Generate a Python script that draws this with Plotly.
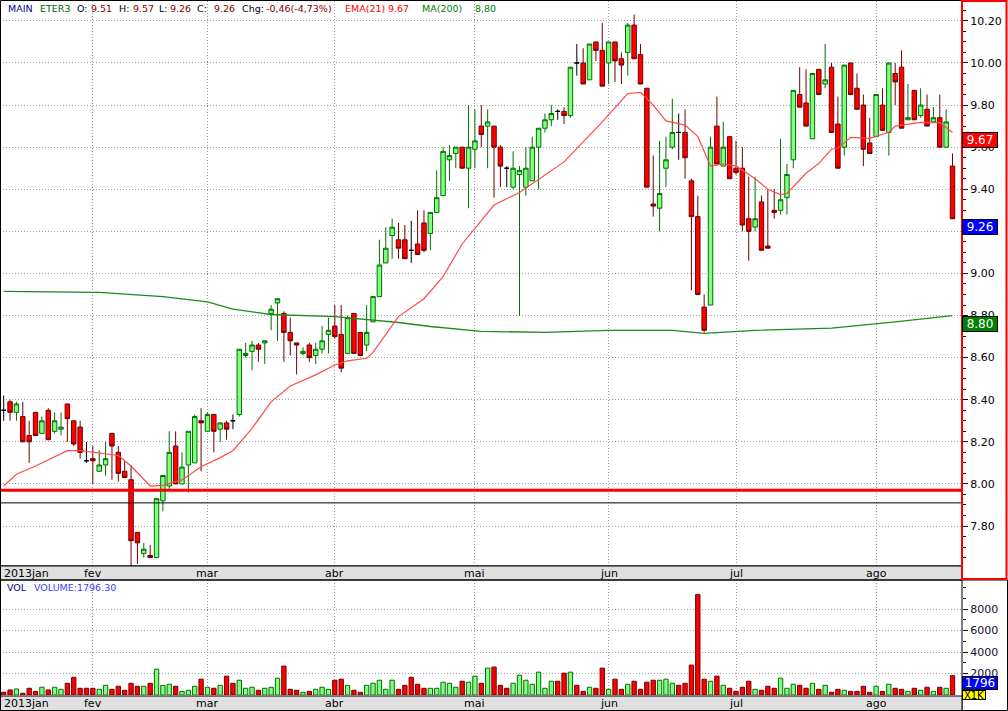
import plotly.graph_objects as go
import pandas as pd

W, H = 1008, 711

# ---------------- data ----------------
holidays = ["2013-01-25", "2013-02-11", "2013-02-12", "2013-03-29",
            "2013-05-01", "2013-05-30", "2013-07-09"]
month_names = ["2013jan", "fev", "mar", "abr", "mai", "jun", "jul", "ago"]

open_ = [8.35, 8.39, 8.34, 8.32, 8.23, 8.34, 8.24, 8.35, 8.25, 8.26,
         8.38, 8.30, 8.27, 8.11, 8.12, 8.06, 8.09, 8.24, 8.15, 8.06,
         8.02, 7.77, 7.67, 7.66, 7.65, 7.92, 7.99, 8.18, 8.00, 8.09,
         8.10, 8.30, 8.25, 8.33, 8.26, 8.29, 8.30, 8.33, 8.61, 8.63,
         8.66, 8.67, 8.81, 8.86, 8.81, 8.72, 8.67, 8.62, 8.66, 8.61,
         8.64, 8.71, 8.75, 8.71, 8.62, 8.81, 8.72, 8.66, 8.77, 8.89,
         9.05, 9.18, 9.16, 9.16, 9.11, 9.14, 9.24, 9.19, 9.29, 9.37,
         9.54, 9.57, 9.60, 9.50, 9.59, 9.70, 9.70, 9.70, 9.60, 9.50,
         9.41, 9.47, 9.41, 9.44, 9.60, 9.69, 9.73, 9.77, 9.77, 9.75,
         10.00, 10.00, 9.92, 10.10, 10.06, 10.00, 10.10, 10.02, 10.05, 10.18,
         10.04, 9.88, 9.33, 9.31, 9.50, 9.60, 9.67, 9.67, 9.44, 9.27,
         8.84, 8.85, 9.70, 9.51, 9.65, 9.50, 9.50, 9.26, 9.22, 9.34,
         9.13, 9.30, 9.30, 9.36, 9.54, 9.85, 9.81, 9.64, 9.97, 9.90,
         9.98, 9.71, 9.60, 10.00, 9.88, 9.80, 9.62, 9.65, 9.80, 9.67,
         9.95, 9.98, 9.73, 9.87, 9.75, 9.78, 9.72, 9.74, 9.60, 9.51]
high = [8.42, 8.40, 8.39, 8.39, 8.30, 8.34, 8.32, 8.36, 8.34, 8.34,
        8.38, 8.30, 8.30, 8.20, 8.18, 8.16, 8.20, 8.24, 8.18, 8.11,
        8.09, 7.77, 7.72, 7.71, 7.93, 8.04, 8.25, 8.25, 8.15, 8.25,
        8.33, 8.36, 8.34, 8.33, 8.29, 8.30, 8.33, 8.64, 8.67, 8.68,
        8.67, 8.68, 8.85, 8.88, 8.82, 8.79, 8.67, 8.65, 8.67, 8.67,
        8.75, 8.79, 8.85, 8.85, 8.80, 8.81, 8.72, 8.85, 8.89, 9.16,
        9.22, 9.26, 9.24, 9.23, 9.25, 9.30, 9.30, 9.29, 9.49, 9.60,
        9.61, 9.60, 9.60, 9.80, 9.78, 9.80, 9.78, 9.70, 9.61, 9.51,
        9.58, 9.51, 9.60, 9.65, 9.69, 9.76, 9.80, 9.78, 9.79, 9.98,
        10.09, 10.07, 10.09, 10.10, 10.19, 10.10, 10.10, 10.05, 10.19, 10.23,
        10.09, 9.88, 9.56, 9.63, 9.65, 9.83, 9.76, 9.78, 9.45, 9.37,
        8.90, 9.65, 9.84, 9.72, 9.65, 9.63, 9.60, 9.46, 9.46, 9.37,
        9.40, 9.40, 9.64, 9.52, 9.87, 9.98, 9.97, 9.95, 9.97, 10.09,
        10.00, 9.84, 9.99, 10.00, 9.95, 9.85, 9.74, 9.85, 9.88, 10.00,
        10.00, 10.06, 9.90, 9.87, 9.88, 9.85, 9.79, 9.85, 9.78, 9.57]
low = [8.30, 8.30, 8.30, 8.20, 8.10, 8.23, 8.24, 8.21, 8.24, 8.23,
       8.20, 8.18, 8.12, 8.10, 8.00, 8.06, 8.04, 8.02, 8.01, 8.03,
       7.61, 7.62, 7.65, 7.65, 7.65, 7.87, 7.97, 8.00, 8.00, 7.96,
       8.10, 8.06, 8.25, 8.15, 8.20, 8.21, 8.26, 8.32, 8.60, 8.54,
       8.58, 8.57, 8.73, 8.68, 8.58, 8.61, 8.52, 8.61, 8.58, 8.57,
       8.62, 8.62, 8.69, 8.53, 8.62, 8.62, 8.61, 8.63, 8.77, 8.89,
       9.05, 9.07, 9.07, 9.07, 9.05, 9.09, 9.10, 9.11, 9.29, 9.37,
       9.44, 9.50, 9.50, 9.31, 9.50, 9.60, 9.50, 9.36, 9.41, 9.41,
       9.40, 8.80, 9.37, 9.44, 9.40, 9.67, 9.70, 9.73, 9.71, 9.74,
       9.94, 9.90, 9.92, 10.01, 9.89, 9.90, 9.91, 9.90, 9.94, 10.02,
       9.90, 9.41, 9.27, 9.20, 9.41, 9.59, 9.54, 9.45, 8.92, 8.90,
       8.72, 8.85, 9.52, 9.51, 9.45, 9.47, 9.20, 9.06, 9.20, 9.11,
       9.12, 9.26, 9.28, 9.28, 9.50, 9.79, 9.70, 9.64, 9.85, 9.88,
       9.67, 9.50, 9.56, 9.85, 9.78, 9.51, 9.57, 9.65, 9.68, 9.56,
       9.80, 9.69, 9.73, 9.73, 9.74, 9.70, 9.72, 9.60, 9.60, 9.26]
close = [8.35, 8.34, 8.38, 8.20, 8.20, 8.23, 8.30, 8.21, 8.30, 8.27,
         8.31, 8.19, 8.15, 8.11, 8.11, 8.09, 8.12, 8.18, 8.05, 8.03,
         7.73, 7.72, 7.69, 7.65, 7.93, 8.04, 8.15, 8.00, 8.08, 8.25,
         8.32, 8.29, 8.33, 8.25, 8.29, 8.26, 8.30, 8.64, 8.62, 8.66,
         8.64, 8.68, 8.83, 8.88, 8.72, 8.68, 8.66, 8.63, 8.60, 8.64,
         8.68, 8.73, 8.70, 8.55, 8.79, 8.62, 8.61, 8.72, 8.89, 9.04,
         9.12, 9.22, 9.12, 9.07, 9.11, 9.09, 9.11, 9.29, 9.36, 9.58,
         9.56, 9.60, 9.50, 9.60, 9.63, 9.66, 9.72, 9.60, 9.51, 9.50,
         9.50, 9.49, 9.50, 9.60, 9.69, 9.73, 9.76, 9.77, 9.75, 9.98,
         10.00, 9.90, 10.09, 10.06, 9.89, 10.10, 10.01, 9.99, 10.18, 10.02,
         9.90, 9.41, 9.32, 9.38, 9.54, 9.67, 9.67, 9.55, 9.27, 8.90,
         8.73, 9.60, 9.52, 9.60, 9.45, 9.48, 9.23, 9.20, 9.26, 9.11,
         9.12, 9.29, 9.35, 9.47, 9.87, 9.79, 9.70, 9.95, 9.85, 9.92,
         9.67, 9.50, 9.99, 9.85, 9.78, 9.59, 9.57, 9.85, 9.68, 10.00,
         9.91, 9.69, 9.74, 9.73, 9.80, 9.70, 9.74, 9.60, 9.72, 9.26]
volume = [250, 470, 560, 160, 625, 340, 720, 470, 720, 530,
          1090, 1650, 625, 625, 625, 530, 900, 530, 810, 440,
          1090, 810, 810, 1090, 2400, 900, 1000, 810, 340, 440,
          810, 1470, 720, 625, 900, 1750, 1090, 1375, 625, 720,
          440, 625, 720, 1560, 2690, 530, 440, 250, 340, 530,
          720, 530, 1375, 1470, 900, 440, 250, 900, 1090, 1375,
          530, 1375, 530, 900, 1650, 1000, 625, 625, 625, 1190,
          1090, 720, 1280, 1190, 1750, 1090, 2500, 2600, 900, 625,
          1090, 1840, 1375, 1000, 2125, 625, 1280, 1280, 2030, 2125,
          900, 340, 720, 625, 2500, 530, 1470, 530, 1000, 1280,
          530, 1190, 1375, 1375, 1470, 1090, 900, 1090, 2780, 9340,
          1470, 1280, 1750, 900, 625, 340, 720, 1280, 530, 440,
          810, 625, 1560, 625, 1000, 900, 625, 1090, 530, 900,
          250, 530, 440, 340, 340, 810, 250, 810, 340, 1000,
          625, 530, 340, 625, 440, 720, 340, 720, 625, 1796.3]

ema_idx = [0, 2, 5, 7, 10, 12, 15, 18, 20, 22, 23, 25, 27, 28, 31, 34, 36, 39,
           42, 45, 49, 52, 54, 57, 58, 62, 66, 69, 72, 77, 81, 88, 94, 98, 100,
           102, 104, 107, 109, 111, 113, 115, 118, 120, 122, 123, 126, 128, 130,
           131, 133, 136, 139, 140, 144, 147, 149]
ema_val = [7.99, 8.046, 8.085, 8.115, 8.158, 8.158, 8.147, 8.135, 8.085, 8.019,
           7.99, 7.993, 8.008, 8.019, 8.082, 8.125, 8.158, 8.264, 8.39, 8.465,
           8.518, 8.565, 8.585, 8.597, 8.625, 8.795, 8.88, 8.985, 9.14, 9.325,
           9.385, 9.53, 9.72, 9.855, 9.86, 9.80, 9.725, 9.705, 9.65, 9.51, 9.52,
           9.511, 9.45, 9.40, 9.375, 9.38, 9.476, 9.523, 9.59, 9.595, 9.647,
           9.642, 9.671, 9.70, 9.718, 9.717, 9.67]
ma_idx = [0, 15, 25, 32, 36, 42, 52, 62, 67, 75, 85, 95, 105, 110, 118, 130, 140, 149]
ma_val = [8.915, 8.91, 8.89, 8.865, 8.83, 8.805, 8.795, 8.767, 8.748, 8.725,
          8.72, 8.73, 8.73, 8.715, 8.73, 8.74, 8.77, 8.80]

red_line_level = 7.97
black_line_level = 7.91
price_ticks = [7.8, 8.0, 8.2, 8.4, 8.6, 8.8, 9.0, 9.2, 9.4, 9.6, 9.8, 10.0, 10.2]
vol_ticks = [2000, 4000, 6000, 8000]

# ---------------- helpers ----------------
def px(x):
    return x / W


def py(y):
    return 1 - y / H


PLOT_R = 962
FONT = "DejaVu Sans"
GRID = "#a0a0a0"
DASH = "1px,2px"

dates = [d for d in pd.bdate_range("2013-01-11", "2013-08-19")
         if d.strftime("%Y-%m-%d") not in holidays]
n = len(close)
idx = list(range(n))
month_first = [i for i in range(1, len(dates)) if dates[i].month != dates[i - 1].month]

up = [i for i in idx if close[i] > open_[i]]
dn = [i for i in idx if close[i] < open_[i]]
dj = [i for i in idx if close[i] == open_[i]]


def candles(ids, fill, line):
    st = dict(fillcolor=fill, line=dict(color=line, width=1))
    return go.Candlestick(
        x=ids, open=[open_[i] for i in ids], high=[high[i] for i in ids],
        low=[low[i] for i in ids], close=[close[i] for i in ids],
        increasing=st, decreasing=st, whiskerwidth=0, hoverinfo="skip",
        xaxis="x", yaxis="y", showlegend=False)


fig = go.Figure()
fig.add_trace(candles(up, "#80ff80", "#007000"))
fig.add_trace(candles(dn, "#ff0000", "#700000"))
fig.add_trace(candles(dj, "#000000", "#000000"))

fig.add_trace(go.Scatter(x=ma_idx, y=ma_val, mode="lines",
                         line=dict(color="#1f8a1f", width=1.3), hoverinfo="skip",
                         xaxis="x", yaxis="y", showlegend=False))
fig.add_trace(go.Scatter(x=ema_idx, y=ema_val, mode="lines",
                         line=dict(color="#ff4a4a", width=1.2), hoverinfo="skip",
                         xaxis="x", yaxis="y", showlegend=False))

vcol = ["#80ff80" if close[i] > open_[i] else "#ff0000" for i in idx]
vline = ["#007000" if close[i] > open_[i] else "#700000" for i in idx]
fig.add_trace(go.Bar(x=idx, y=volume, marker=dict(color=vcol, line=dict(color=vline, width=1)),
                     hoverinfo="skip", xaxis="x2", yaxis="y2", showlegend=False))

x_lo, x_hi = -0.58, 150.49
grid_common = dict(showgrid=True, gridcolor=GRID, griddash=DASH, gridwidth=1,
                   zeroline=False, automargin=False)

fig.update_layout(
    width=W, height=H, margin=dict(l=0, r=0, t=0, b=0, pad=0, autoexpand=False),
    paper_bgcolor="white", plot_bgcolor="white", showlegend=False,
    boxgap=0.3, boxgroupgap=0, bargap=0.32,
    xaxis=dict(domain=[0, PLOT_R / W], range=[x_lo, x_hi], anchor="y",
               tickvals=month_first, showticklabels=False, ticks="",
               rangeslider=dict(visible=False), showline=False, **grid_common),
    yaxis=dict(domain=[py(566), py(1)], range=[7.610, 10.2945], side="right", anchor="x",
               tickvals=price_ticks, ticktext=[f"{v:.2f}" for v in price_ticks],
               ticks="outside", ticklen=5, tickcolor="black", tickwidth=1,
               tickfont=dict(family=FONT, size=11, color="black"),
               minor=dict(dtick=0.05, tick0=7.8, ticks="outside", ticklen=3,
                          tickcolor="black", showgrid=False),
               showline=False, **grid_common),
    xaxis2=dict(domain=[0, PLOT_R / W], range=[x_lo, x_hi], anchor="y2", matches="x",
                tickvals=month_first, showticklabels=False, ticks="", showline=False,
                **grid_common),
    yaxis2=dict(domain=[py(695), py(580)], range=[0, 10700], side="right", anchor="x2",
                tickvals=vol_ticks, ticks="outside", ticklen=5, tickcolor="black",
                tickfont=dict(family=FONT, size=11, color="#101030"),
                minor=dict(dtick=1000, tick0=0, ticks="outside", ticklen=3,
                           tickcolor="black", showgrid=False),
                showline=False, **grid_common),
)

shapes = [
    # horizontal user lines
    dict(type="line", xref="paper", yref="y", x0=0, x1=PLOT_R / W,
         y0=red_line_level, y1=red_line_level, line=dict(color="#ff0000", width=3)),
    dict(type="line", xref="paper", yref="y", x0=0, x1=PLOT_R / W,
         y0=black_line_level, y1=black_line_level, line=dict(color="black", width=1)),
    # main panel frame
    dict(type="rect", xref="paper", yref="paper", x0=px(0.5), x1=px(PLOT_R), y0=py(566), y1=py(0.5),
         line=dict(color="black", width=1)),
    # date band 1
    dict(type="rect", xref="paper", yref="paper", x0=px(0.5), x1=px(PLOT_R), y0=py(580), y1=py(566),
         fillcolor="#e0e0e0", line=dict(color="black", width=1)),
    # volume panel frame
    dict(type="rect", xref="paper", yref="paper", x0=px(0.5), x1=px(1007.5), y0=py(710.5), y1=py(580),
         line=dict(color="black", width=1)),
    dict(type="line", xref="paper", yref="paper", x0=px(PLOT_R), x1=px(PLOT_R), y0=py(711), y1=py(580),
         line=dict(color="black", width=1)),
    # date band 2
    dict(type="rect", xref="paper", yref="paper", x0=px(0.5), x1=px(PLOT_R), y0=py(710.5), y1=py(696),
         fillcolor="#e0e0e0", line=dict(color="black", width=1)),
    # red price-axis frame
    dict(type="rect", xref="paper", yref="paper", x0=px(PLOT_R), x1=px(1006.5), y0=py(579), y1=py(1),
         line=dict(color="#ff0000", width=2)),
]
fig.update_layout(shapes=shapes)

ann = []
# month labels in both bands
for band_y in (573, 703.5):
    ann.append(dict(text=month_names[0], xref="paper", yref="paper", x=px(2), y=py(band_y),
                    xanchor="left", yanchor="middle", showarrow=False,
                    font=dict(family=FONT, size=11, color="black")))
    for name, mi in zip(month_names[1:], month_first):
        ann.append(dict(text=name, xref="x", yref="paper", x=mi, y=py(band_y),
                        xanchor="center", yanchor="middle", showarrow=False,
                        font=dict(family=FONT, size=11, color="black")))

# header
chg = close[-1] - close[-2]
chg_pct = chg / close[-2] * 100
fmt = lambda v: f"{v:.2f}"
header = [
    ("MAIN", "#000080", 6), ("ETER3", "#006000", 38),
    ("O:", "#000020", 75), (fmt(open_[-1]), "#800000", 89),
    ("H:", "#000020", 117), (fmt(high[-1]), "#800000", 131),
    ("L:", "#000020", 157), (fmt(low[-1]), "#800000", 168),
    ("C:", "#000020", 195), (fmt(close[-1]), "#800000", 212),
    ("Chg:", "#000020", 240),
    (f"{chg:.2f}({chg_pct:.2f}%)".replace(".", ","), "#800000", 264),
    ("EMA(21)", "#ff0000", 343), (fmt(ema_val[-1]), "#ff0000", 386),
    ("MA(200)", "#008000", 420), (fmt(ma_val[-1]).replace(".", ","), "#008000", 473),
]
for t, c, x in header:
    ann.append(dict(text=t, xref="paper", yref="paper", x=px(x), y=py(8),
                    xanchor="left", yanchor="middle", showarrow=False,
                    font=dict(family=FONT, size=9.5, color=c)))

ann.append(dict(text="VOL", xref="paper", yref="paper", x=px(5), y=py(587),
                xanchor="left", yanchor="middle", showarrow=False,
                font=dict(family=FONT, size=9.5, color="#000080")))
ann.append(dict(text=f"VOLUME:{volume[-1]:.2f}", xref="paper", yref="paper", x=px(32), y=py(587),
                xanchor="left", yanchor="middle", showarrow=False,
                font=dict(family=FONT, size=9.5, color="#4040ff")))

# right-axis value boxes
for val, bg in ((ema_val[-1], "#ff0000"), (close[-1], "#0000ff"), (ma_val[-1], "#008000")):
    ann.append(dict(text=fmt(val), xref="paper", yref="y", x=px(PLOT_R), y=val,
                    xanchor="left", yanchor="top", showarrow=False, width=34, height=14,
                    bgcolor=bg, bordercolor="black", borderwidth=1, borderpad=0,
                    font=dict(family=FONT, size=12, color="white")))
ann.append(dict(text=f"{volume[-1]:.0f}", xref="paper", yref="y2", x=px(PLOT_R), y=volume[-1],
                xanchor="left", yanchor="top", showarrow=False, width=34, height=12,
                bgcolor="#0000ff", bordercolor="black", borderwidth=1, borderpad=0,
                font=dict(family=FONT, size=12, color="white")))
ann.append(dict(text="X1K", xref="paper", yref="paper", x=px(PLOT_R), y=py(690),
                xanchor="left", yanchor="top", showarrow=False, width=22, height=8,
                bgcolor="#ffff00", bordercolor="black", borderwidth=1, borderpad=0,
                font=dict(family=FONT, size=10, color="black")))

fig.update_layout(annotations=ann)
fig.write_html("out.html", config={"displayModeBar": False},
               post_script="document.body.style.margin='0';document.body.style.overflow='hidden';")
